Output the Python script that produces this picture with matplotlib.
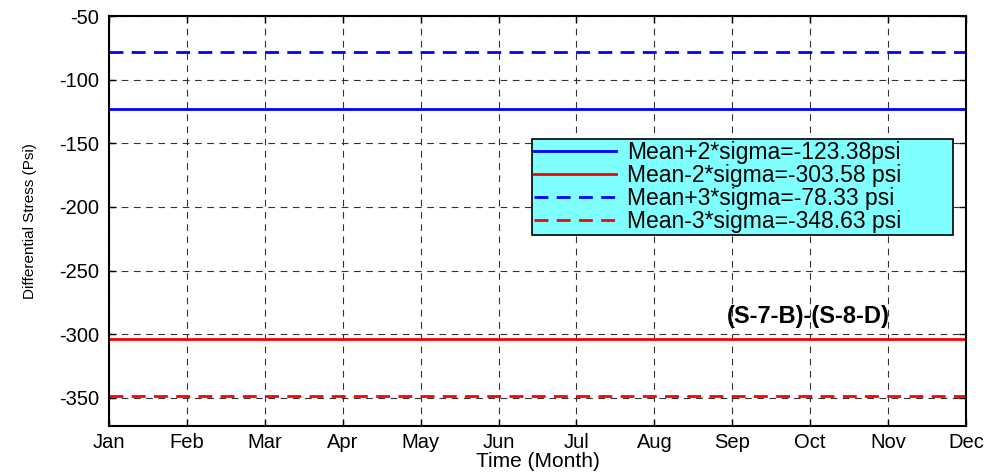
import matplotlib.pyplot as plt

months = ['Jan', 'Feb', 'Mar', 'Apr', 'May', 'Jun', 'Jul', 'Aug', 'Sep', 'Oct', 'Nov', 'Dec']
x = list(range(len(months)))

mean_p2 = -123.38
mean_m2 = -303.58
mean_p3 = -78.33
mean_m3 = -348.63

labels = ['Mean+2*sigma=-123.38psi', 'Mean-2*sigma=-303.58 psi',
          'Mean+3*sigma=-78.33 psi', 'Mean-3*sigma=-348.63 psi']
yticks = [-350, -300, -250, -200, -150, -100, -50]

plt.rcParams['font.family'] = ['Liberation Sans', 'DejaVu Sans']
plt.rcParams['axes.unicode_minus'] = False

fig = plt.figure(figsize=(9.9, 4.72), dpi=100)
axw = 857
ax = fig.add_axes([109/990, 1-426/472, axw/990, 410/472])

ax.plot(x, [mean_p2]*len(x), color='#0000ff', lw=2, label=labels[0])
ax.plot(x, [mean_m2]*len(x), color='#ff0000', lw=2, label=labels[1])
ax.plot(x, [mean_p3]*len(x), color='#0000ff', lw=2, ls=(0, (5, 3)), label=labels[2])
ax.plot(x, [mean_m3]*len(x), color='#ff0000', lw=2, ls=(0, (5, 3)), label=labels[3])

ax.set_xlim(0, 11)
ax.set_ylim(-372, -50)
ax.set_xticks(x)
ax.set_xticklabels(months)
ax.set_yticks(yticks)
ax.grid(True, color='#333333', ls=(0, (6, 5)), lw=0.8)
ax.tick_params(direction='in', labelsize=14.5, length=5, width=1, top=True, right=True)
ax.tick_params(axis='x', pad=5)
ax.tick_params(axis='y', pad=7)
for s in ax.spines.values():
    s.set_linewidth(1.5)

ax.set_xlabel('Time (Month)', fontsize=15, labelpad=0)
ax.set_ylabel('Differential Stress (Psi)', fontsize=11, labelpad=16)

# legend box placed where the reference has it
bx0 = (532-109)/axw
by1 = (426-139)/410
leg = ax.legend(loc='upper left', bbox_to_anchor=(bx0, by1 - 0.3, 421/axw, 0.3), mode='expand',
                fontsize=16.5, frameon=True, fancybox=False, handlelength=3.6,
                handletextpad=0.45, borderaxespad=0, labelspacing=0.0, borderpad=0.08)
leg.get_frame().set_facecolor('#80ffff')
leg.get_frame().set_edgecolor('black')
leg.get_frame().set_linewidth(1.2)
leg.get_frame().set_alpha(1)

ax.text(8.98, -286, '(S-7-B)-(S-8-D)', fontsize=17, fontweight='bold', ha='center', va='center')

fig.savefig('out.png', dpi=100)
